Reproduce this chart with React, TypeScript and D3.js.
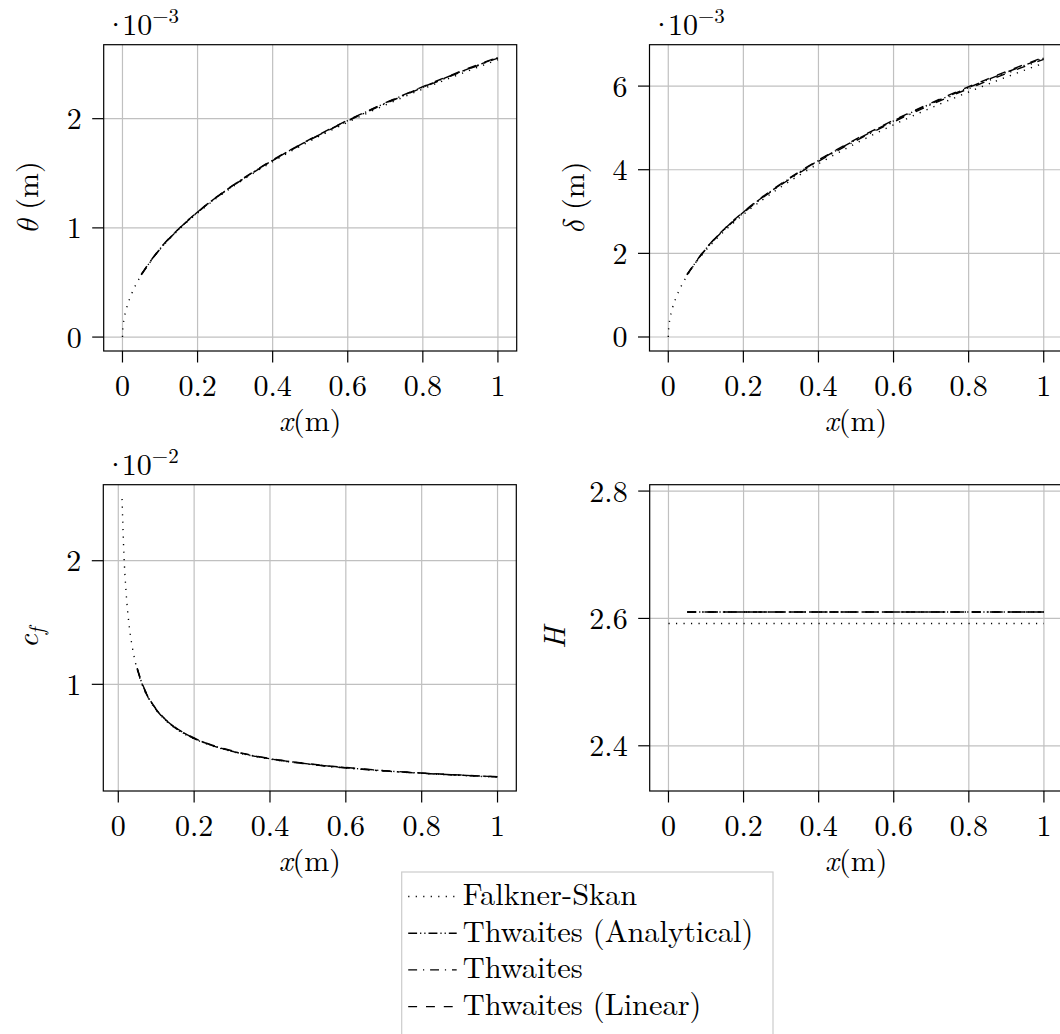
import * as d3 from "d3";

// x positions (m)
const xFS = [0, 0.001, 0.002, 0.005, 0.01, 0.02, 0.03, 0.05, 0.1, 0.15, 0.2, 0.25, 0.3, 0.35, 0.4, 0.45, 0.5, 0.55, 0.6, 0.65, 0.7, 0.75, 0.8, 0.85, 0.9, 0.95, 1];
const xCfFS = [0.01, 0.015, 0.02, 0.025, 0.03, 0.04, 0.05, 0.06, 0.08, 0.1, 0.12, 0.15, 0.2, 0.25, 0.3, 0.35, 0.4, 0.45, 0.5, 0.55, 0.6, 0.65, 0.7, 0.75, 0.8, 0.85, 0.9, 0.95, 1];
const xTw = [0.05, 0.1, 0.15, 0.2, 0.25, 0.3, 0.35, 0.4, 0.45, 0.5, 0.55, 0.6, 0.65, 0.7, 0.75, 0.8, 0.85, 0.9, 0.95, 1];
const xCfTw = [0.05, 0.06, 0.07, 0.08, 0.09, 0.1, 0.12, 0.15, 0.2, 0.25, 0.3, 0.35, 0.4, 0.45, 0.5, 0.55, 0.6, 0.65, 0.7, 0.75, 0.8, 0.85, 0.9, 0.95, 1];
const xHFS = [0, 1];
const xHTw = [0.05, 1];

// theta (x 1e-3 m)
const thetaFS = [0, 0.08, 0.114, 0.18, 0.254, 0.359, 0.44, 0.568, 0.803, 0.984, 1.136, 1.27, 1.391, 1.503, 1.606, 1.704, 1.796, 1.884, 1.967, 2.048, 2.125, 2.2, 2.272, 2.342, 2.41, 2.476, 2.54];
const thetaAn = [0.572, 0.809, 0.991, 1.145, 1.28, 1.402, 1.514, 1.619, 1.717, 1.81, 1.898, 1.983, 2.064, 2.142, 2.217, 2.29, 2.36, 2.429, 2.495, 2.56];
const thetaTw = [0.569, 0.806, 0.988, 1.142, 1.277, 1.399, 1.511, 1.616, 1.714, 1.807, 1.895, 1.979, 2.06, 2.138, 2.213, 2.286, 2.356, 2.425, 2.491, 2.555];
const thetaLin = [0.574, 0.811, 0.993, 1.147, 1.282, 1.404, 1.517, 1.622, 1.72, 1.813, 1.901, 1.986, 2.067, 2.145, 2.22, 2.293, 2.364, 2.433, 2.499, 2.564];

// delta (x 1e-3 m)
const deltaFS = [0, 0.207, 0.293, 0.463, 0.655, 0.926, 1.134, 1.465, 2.071, 2.537, 2.929, 3.275, 3.588, 3.875, 4.143, 4.394, 4.632, 4.858, 5.074, 5.281, 5.48, 5.672, 5.859, 6.039, 6.214, 6.384, 6.55];
const deltaAn = [1.491, 2.109, 2.583, 2.983, 3.335, 3.653, 3.946, 4.219, 4.474, 4.716, 4.946, 5.167, 5.377, 5.581, 5.776, 5.966, 6.15, 6.328, 6.501, 6.67];
const deltaTw = [1.485, 2.1, 2.572, 2.969, 3.32, 3.637, 3.928, 4.2, 4.454, 4.695, 4.924, 5.143, 5.353, 5.556, 5.75, 5.939, 6.122, 6.299, 6.472, 6.64];
const deltaLin = [1.496, 2.115, 2.591, 2.992, 3.345, 3.664, 3.958, 4.231, 4.488, 4.73, 4.961, 5.182, 5.393, 5.597, 5.794, 5.984, 6.168, 6.347, 6.521, 6.69];

// skin friction (x 1e-2)
const cfFS = [2.5, 2.041, 1.768, 1.581, 1.443, 1.25, 1.118, 1.021, 0.884, 0.791, 0.722, 0.645, 0.559, 0.5, 0.456, 0.423, 0.395, 0.373, 0.354, 0.337, 0.323, 0.31, 0.299, 0.289, 0.28, 0.271, 0.264, 0.256, 0.25];
const cfAn = [1.127, 1.029, 0.952, 0.891, 0.84, 0.797, 0.727, 0.651, 0.564, 0.504, 0.46, 0.426, 0.398, 0.376, 0.356, 0.34, 0.325, 0.313, 0.301, 0.291, 0.282, 0.273, 0.266, 0.259, 0.252];
const cfTw = [1.123, 1.025, 0.949, 0.887, 0.837, 0.794, 0.725, 0.648, 0.561, 0.502, 0.458, 0.424, 0.397, 0.374, 0.355, 0.338, 0.324, 0.311, 0.3, 0.29, 0.281, 0.272, 0.265, 0.257, 0.251];
const cfLin = [1.131, 1.033, 0.956, 0.894, 0.843, 0.8, 0.73, 0.653, 0.566, 0.506, 0.462, 0.428, 0.4, 0.377, 0.358, 0.341, 0.327, 0.314, 0.302, 0.292, 0.283, 0.274, 0.267, 0.259, 0.253];

// shape factor
const hFS = [2.592, 2.592];
const hAn = [2.61, 2.61];
const hTw = [2.61, 2.61];
const hLin = [2.61, 2.61];

const legendLabels = ["Falkner-Skan", "Thwaites (Analytical)", "Thwaites", "Thwaites (Linear)"];
const xTicks = [0, 0.2, 0.4, 0.6, 0.8, 1];

const FONT = "'Latin Modern Roman', 'CMU Serif', 'Liberation Serif', serif";
const GREEK = "'Latin Modern Math', 'Latin Modern Roman', 'Liberation Serif', serif";
const DASHES = ["1.2 6.3", "8.9 3 1.2 3 1.2 3", "8.9 5.9 1.2 5.9", "8.9 8.9"];
const W = 413;
const H = 306.3;
const FS = 30;

interface Series {
  x: number[];
  y: number[];
}

interface PanelProps {
  left: number;
  top: number;
  xDomain: [number, number];
  yDomain: [number, number];
  yTicks: number[];
  ylabel: React.ReactNode;
  labelOffset: number;
  mult?: string;
  series: Series[];
}

function Panel({ left, top, xDomain, yDomain, yTicks, ylabel, labelOffset, mult, series }: PanelProps) {
  const x = d3.scaleLinear().domain(xDomain).range([0, W]);
  const y = d3.scaleLinear().domain(yDomain).range([H, 0]);
  const line = d3.line<number>().curve(d3.curveMonotoneX);

  return (
    <g transform={`translate(${left},${top})`}>
      {/* grid */}
      {xTicks.map((t) => (
        <line key={"gx" + t} x1={x(t)} x2={x(t)} y1={0} y2={H} stroke="#c0c0c0" strokeWidth={1.2} />
      ))}
      {yTicks.map((t) => (
        <line key={"gy" + t} x1={0} x2={W} y1={y(t)} y2={y(t)} stroke="#c0c0c0" strokeWidth={1.2} />
      ))}
      {/* data */}
      {series.map((s, i) => {
        const path = line.x((_, j) => x(s.x[j])).y((d) => y(d))(s.y);
        return (
          <path key={i} d={path || ""} fill="none" stroke="#000" strokeWidth={1.4} strokeDasharray={DASHES[i]} />
        );
      })}
      {/* box */}
      <rect x={0} y={0} width={W} height={H} fill="none" stroke="#000" strokeWidth={1.2} />
      {/* ticks */}
      {xTicks.map((t) => (
        <g key={"tx" + t} transform={`translate(${x(t)},${H})`}>
          <line y1={0} y2={11.5} stroke="#000" strokeWidth={1.2} />
          <text y={34} dy="0.35em" textAnchor="middle" fontSize={FS} fontFamily={FONT}>
            {String(t)}
          </text>
        </g>
      ))}
      {yTicks.map((t) => (
        <g key={"ty" + t} transform={`translate(0,${y(t)})`}>
          <line x1={-11.5} x2={0} stroke="#000" strokeWidth={1.2} />
          <text x={-22} dy="0.35em" textAnchor="end" fontSize={FS} fontFamily={FONT}>
            {String(t)}
          </text>
        </g>
      ))}
      {/* x label */}
      <text x={W / 2} y={H + 80} textAnchor="middle" fontSize={FS} fontFamily={FONT}>
        <tspan fontStyle="italic">x</tspan>(m)
      </text>
      {/* y label */}
      <text
        transform={`translate(${-labelOffset},${H / 2}) rotate(-90)`}
        dy="0.35em"
        textAnchor="middle"
        fontSize={FS}
        fontFamily={FONT}
      >
        {ylabel}
      </text>
      {mult && (
        <>
          <text x={12} y={-10} textAnchor="middle" fontSize={FS} fontFamily={FONT}>
            ·
          </text>
          <text x={18.5} y={-10} fontSize={FS} fontFamily={FONT}>
            10
            <tspan dy={-11.5} fontSize={21}>
              {mult}
            </tspan>
          </text>
        </>
      )}
    </g>
  );
}

export default function App() {
  const legendTop = 872;
  const rowH = 36.7;
  return (
    <svg width={1060} height={1034} style={{ position: "absolute", left: 0, top: 0, background: "#fff" }}>
      <Panel
        left={103.7}
        top={44.7}
        xDomain={[-0.05, 1.05]}
        yDomain={[-0.1275, 2.6775]}
        yTicks={[0, 1, 2]}
        labelOffset={76}
        mult="−3"
        ylabel={
          <>
            <tspan fontStyle="italic" fontFamily={GREEK}>θ</tspan> (m)
          </>
        }
        series={[
          { x: xFS, y: thetaFS },
          { x: xTw, y: thetaAn },
          { x: xTw, y: thetaTw },
          { x: xTw, y: thetaLin },
        ]}
      />
      <Panel
        left={649.5}
        top={44.7}
        xDomain={[-0.05, 1.05]}
        yDomain={[-0.335, 6.99]}
        yTicks={[0, 2, 4, 6]}
        labelOffset={76}
        mult="−3"
        ylabel={
          <>
            <tspan fontStyle="italic" fontFamily={GREEK}>δ</tspan> (m)
          </>
        }
        series={[
          { x: xFS, y: deltaFS },
          { x: xTw, y: deltaAn },
          { x: xTw, y: deltaTw },
          { x: xTw, y: deltaLin },
        ]}
      />
      <Panel
        left={103.3}
        top={484.7}
        xDomain={[-0.0395, 1.0495]}
        yDomain={[0.137, 2.615]}
        yTicks={[1, 2]}
        labelOffset={76}
        mult="−2"
        ylabel={
          <>
            <tspan fontStyle="italic">c</tspan>
            <tspan fontStyle="italic" fontSize={21} dy={6}>
              f
            </tspan>
          </>
        }
        series={[
          { x: xCfFS, y: cfFS },
          { x: xCfTw, y: cfAn },
          { x: xCfTw, y: cfTw },
          { x: xCfTw, y: cfLin },
        ]}
      />
      <Panel
        left={649.7}
        top={484.7}
        xDomain={[-0.05, 1.05]}
        yDomain={[2.329, 2.81]}
        yTicks={[2.4, 2.6, 2.8]}
        labelOffset={95}
        ylabel={<tspan fontStyle="italic">H</tspan>}
        series={[
          { x: xHFS, y: hFS },
          { x: xHTw, y: hAn },
          { x: xHTw, y: hTw },
          { x: xHTw, y: hLin },
        ]}
      />
      {/* legend */}
      <g transform={`translate(401.7,${legendTop})`}>
        <rect x={0} y={0} width={371.3} height={170} fill="#fff" stroke="#cccccc" strokeWidth={1.2} />
        {legendLabels.map((lab, i) => (
          <g key={lab} transform={`translate(0,${33 + i * rowH})`}>
            <line x1={6.5} x2={55} y1={-8.5} y2={-8.5} stroke="#000" strokeWidth={1.4} strokeDasharray={DASHES[i]} />
            <text x={61} y={0} fontSize={30.4} fontFamily={FONT}>
              {lab}
            </text>
          </g>
        ))}
      </g>
    </svg>
  );
}
